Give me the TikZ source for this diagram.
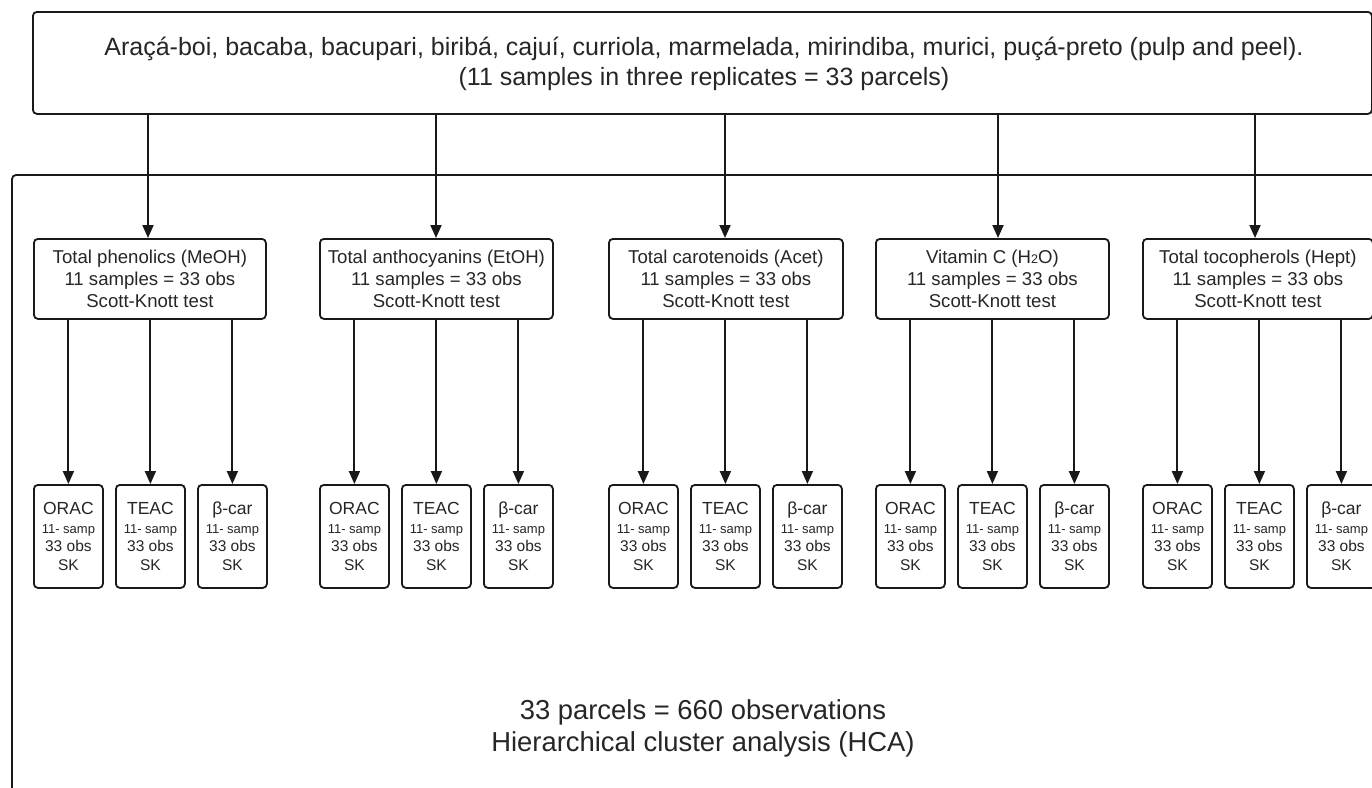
\documentclass[tikz,border=0pt]{standalone}
\usepackage{fontspec}
\setmainfont{Liberation Sans}
\usetikzlibrary{arrows.meta}
\begin{document}
\begin{tikzpicture}[x=1pt,y=-1pt,
  frame/.style={draw=black!90, line width=1.8pt, rounded corners=4pt},
  topbox/.style={frame, anchor=north west, minimum width=1339pt, minimum height=102pt, inner sep=0pt},
  midbox/.style={frame, anchor=north west, minimum height=80pt, inner sep=0pt, align=center,
     font=\fontsize{18.6}{22}\selectfont, text=black!85},
  smallbox/.style={frame, anchor=north west, minimum width=69pt, minimum height=103pt, inner sep=0pt, align=center,
     font=\fontsize{15.5}{18.5}\selectfont, text=black!85},
  txt/.style={align=center, inner sep=0pt, text=black!85},
  conn/.style={draw=black!90, line width=1.9pt, -{Triangle[length=13pt,width=11pt]}}
]
\useasboundingbox (0,0) rectangle (1372,787);
\clip (0,0) rectangle (1372,787);
\fill[white] (0,0) rectangle (1372,787);

% big frame (extends beyond the picture)
\draw[frame] (12,175) rectangle (1400,820);

% top box
\node[topbox] (top) at (32,11) {};
\node[txt, font=\fontsize{25}{30}\selectfont] (toptext) at (704,64)
  {Araçá-boi, bacaba, bacupari, biribá, cajuí, curriola, marmelada, mirindiba, murici, puçá-preto (pulp and peel).\\
   (11 samples in three replicates = 33 parcels)};

% middle boxes
\node[midbox, minimum width=232pt] (m1) at (33,238) {Total phenolics (MeOH)\\11 samples = 33 obs\\Scott-Knott test};
\node[midbox, minimum width=233pt] (m2) at (319,238) {Total anthocyanins (EtOH)\\11 samples = 33 obs\\Scott-Knott test};
\node[midbox, minimum width=234pt] (m3) at (608,238) {Total carotenoids (Acet)\\11 samples = 33 obs\\Scott-Knott test};
\node[midbox, minimum width=233pt] (m4) at (875,238) {Vitamin C (H{\fontsize{12.5}{12}\selectfont 2}O)\\11 samples = 33 obs\\Scott-Knott test};
\node[midbox, minimum width=230pt] (m5) at (1142,238) {Total tocopherols (Hept)\\11 samples = 33 obs\\Scott-Knott test};

% arrows from top box
\coordinate (c1) at (148,238);
\coordinate (c2) at (436,238);
\coordinate (c3) at (725,238);
\coordinate (c4) at (998,238);
\coordinate (c5) at (1255,238);
\foreach \i in {1,...,5} {
  \draw[conn] (top.south -| c\i) -- (c\i);
}

% small boxes
\foreach \g/\x in {1/33, 2/319, 3/608, 4/875, 5/1142} {
  \node[smallbox] (s\g a) at (\x,484)
    {{\fontsize{17.5}{18.5}\selectfont ORAC}\\{\fontsize{13}{18.5}\selectfont 11- samp}\\33 obs\\SK};
  \node[smallbox] (s\g b) at (\x+82,484)
    {{\fontsize{17.5}{18.5}\selectfont TEAC}\\{\fontsize{13}{18.5}\selectfont 11- samp}\\33 obs\\SK};
  \node[smallbox] (s\g c) at (\x+164,484)
    {{\fontsize{17.5}{18.5}\selectfont β-car}\\{\fontsize{13}{18.5}\selectfont 11- samp}\\33 obs\\SK};
  \draw[conn] (m\g.south -| s\g a.north) -- (s\g a.north);
  \draw[conn] (m\g.south -| s\g b.north) -- (s\g b.north);
  \draw[conn] (m\g.south -| s\g c.north) -- (s\g c.north);
}

% bottom text
\node[txt, font=\fontsize{27.4}{32}\selectfont] (hca) at (703,728)
  {33 parcels = 660 observations\\Hierarchical cluster analysis (HCA)};
\end{tikzpicture}
\end{document}
